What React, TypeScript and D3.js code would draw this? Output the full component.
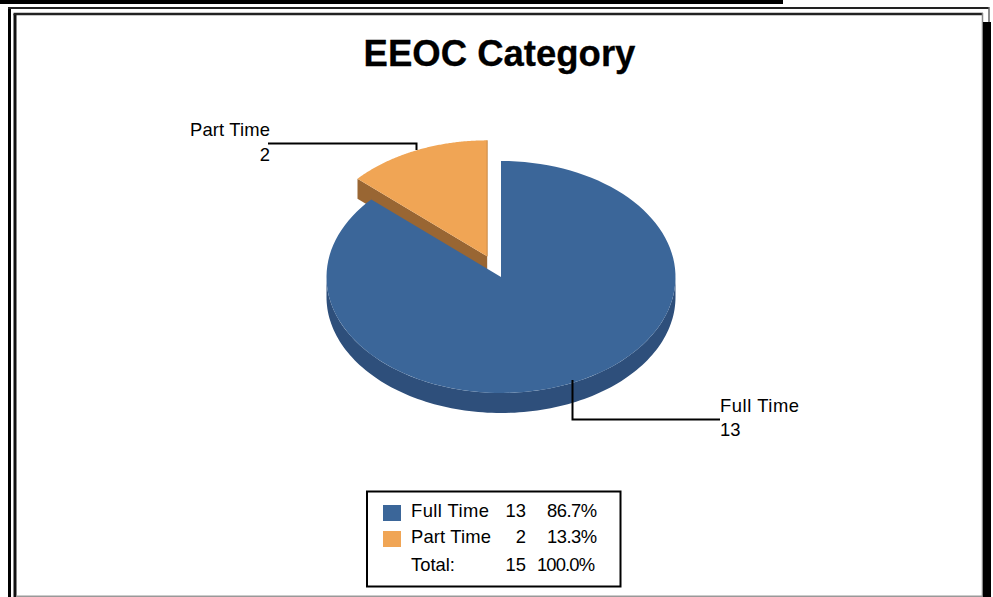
import React from "react";
import * as d3 from "d3";

const categories = ["Full Time", "Part Time"];
const values = [13, 2];
const colors = ["#3B6699", "#F0A555"];
const wallColors = ["#2E4F7B", "#996633"];
const labelWidths = [79, 80];
const chartTitle = "EEOC Category";
const font = "'Liberation Sans', Arial, sans-serif";

const W = 993, H = 597;
const cx = 501, cy = 277, rx = 174.5, ry = 116, depth = 20;
const explode = 34;

const pie = d3.pie<number>().sort(null).startAngle(0).endAngle(2 * Math.PI);
const arcs = pie(values);
const total = d3.sum(values);
const pct = d3.format(".1%");

const scaleX = d3.scaleLinear().domain([-1, 1]).range([cx - rx, cx + rx]);
const scaleY = d3.scaleLinear().domain([-1, 1]).range([cy - ry, cy + ry]);
const px = (a: number, r = 1) => scaleX(Math.sin(a) * r);
const py = (a: number, r = 1) => scaleY(-Math.cos(a) * r);
const line = d3.line<[number, number]>();

function sweep(a0: number, a1: number): [number, number][] {
  const n = 120;
  return d3.range(n + 1).map((i) => {
    const a = a0 + ((a1 - a0) * i) / n;
    return [px(a), py(a)] as [number, number];
  });
}
function slicePath(a0: number, a1: number) {
  return line([[cx, cy], ...sweep(a0, a1)]) + "Z";
}

const blue = arcs[0];
const orange = arcs[1];
const mid = (orange.startAngle + orange.endAngle) / 2;
const ox = Math.sin(mid) * explode;
const oy = (-Math.cos(mid) * explode * ry) / rx;

const frontRim = sweep(Math.PI / 2, (3 * Math.PI) / 2);
const blueWall =
  line([
    ...frontRim,
    ...frontRim.slice().reverse().map(([x, y]) => [x, y + depth] as [number, number]),
  ]) + "Z";

const oA: [number, number] = [px(orange.startAngle), py(orange.startAngle)];
const orangeWall =
  line([
    [oA[0], oA[1]],
    [cx, cy],
    [cx, cy + depth],
    [oA[0], oA[1] + depth],
  ]) + "Z";

const textStyle = { fontFamily: font, fontSize: 18.4, fill: "#000" } as const;
const legendRows = categories.map((c, i) => ({
  c,
  v: values[i],
  p: pct(values[i] / total),
  color: colors[i],
  w: labelWidths[i],
}));
const rowY = d3.scaleLinear().domain([0, 1]).range([517, 543]);

export default function App() {
  return (
    <svg
      width={W}
      height={H}
      viewBox={`0 0 ${W} ${H}`}
      style={{ position: "fixed", left: 0, top: 0, background: "#fff" }}
    >
      {/* frames */}
      <rect x={0} y={0} width={783} height={4} fill="#000" />
      <path d="M9.5 597V8" fill="none" stroke="#000" strokeWidth={3} />
      <path d="M15 597V14" fill="none" stroke="#111" strokeWidth={3} />
      <path d="M8 8H989" fill="none" stroke="#222" strokeWidth={2.2} />
      <path d="M13.5 14H983" fill="none" stroke="#222" strokeWidth={2.4} />
      <path d="M989 7V22" fill="none" stroke="#666" strokeWidth={1.5} />
      <path d="M982.5 13V597" fill="none" stroke="#888" strokeWidth={1.5} />
      <rect x={983} y={22} width={8} height={575} fill="#000" />
      <rect x={16} y={595.5} width={966} height={1.5} fill="#999" />

      <text x={499.5} y={66} textAnchor="middle" fontFamily={font} fontWeight={700} fontSize={36.5} stroke="#000" strokeWidth={0.3}>
        {chartTitle}
      </text>

      {/* exploded orange slice */}
      <g transform={`translate(${ox},${oy})`}>
        <path d={orangeWall} fill={wallColors[1]} />
        <path d={slicePath(orange.startAngle, orange.endAngle)} fill={colors[1]} />
        <line x1={cx} x2={cx} y1={py(0)} y2={cy} stroke="#C98B47" strokeWidth={1} />
      </g>

      {/* blue slice */}
      <path d={blueWall} fill={wallColors[0]} />
      <path d={slicePath(blue.startAngle, blue.endAngle)} fill={colors[0]} />

      {/* leaders */}
      <path d="M268 143.5H416.5V150" fill="none" stroke="#000" strokeWidth={2} />
      <path d="M572.5 380V419.5H720" fill="none" stroke="#000" strokeWidth={2} />

      <text x={270} y={136} textAnchor="end" textLength={labelWidths[1]} {...textStyle}>{categories[1]}</text>
      <text x={270} y={160.5} textAnchor="end" {...textStyle}>{values[1]}</text>
      <text x={720} y={412} textLength={labelWidths[0]} {...textStyle}>{categories[0]}</text>
      <text x={720} y={436} {...textStyle}>{values[0]}</text>

      {/* legend */}
      <rect x={367} y={491.5} width={253.5} height={95} fill="#fff" stroke="#000" strokeWidth={2} />
      {legendRows.map((r, i) => (
        <g key={r.c}>
          <rect x={383} y={rowY(i) - 12} width={18} height={16} fill={r.color} />
          <text x={411} y={rowY(i)} textLength={r.w - (i === 0 ? 1 : 0)} {...textStyle}>{r.c}</text>
          <text x={526} y={rowY(i)} textAnchor="end" {...textStyle}>{r.v}</text>
          <text x={597} y={rowY(i)} textAnchor="end" textLength={50} {...textStyle}>{r.p}</text>
        </g>
      ))}
      <text x={411} y={571} {...textStyle}>Total:</text>
      <text x={526} y={571} textAnchor="end" {...textStyle}>{total}</text>
      <text x={595} y={571} textAnchor="end" textLength={58} {...textStyle}>{pct(1)}</text>
    </svg>
  );
}
